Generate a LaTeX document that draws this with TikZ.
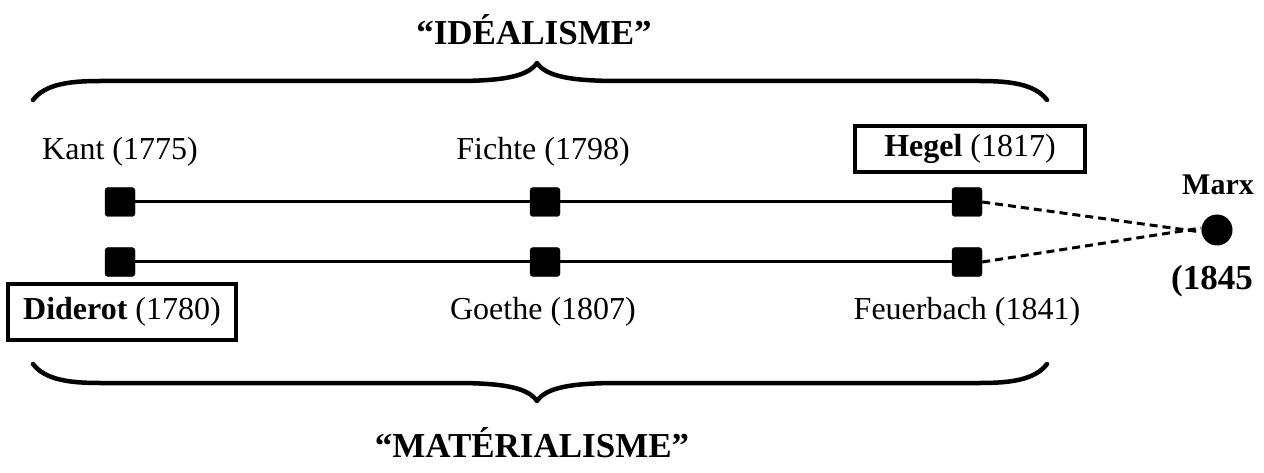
\documentclass[tikz,border=0pt]{standalone}
\usepackage{fontspec}
\setmainfont{Liberation Serif}
\begin{document}
\begin{tikzpicture}[x=1pt,y=-1pt,
  lbl/.style={font=\fontsize{32}{38}\selectfont, inner sep=0pt, anchor=center},
  ttl/.style={lbl, font=\fontsize{35}{42}\selectfont\bfseries},
  boxed/.style={lbl, draw, line width=3.5pt, minimum height=46pt},
  sq/.style={fill=black, draw=black, rounded corners=3pt, minimum width=30pt, minimum height=29pt, inner sep=0pt},
  tl/.style={line width=3pt},
  dl/.style={line width=3pt, dash pattern=on 8pt off 5pt},
  brace/.style={line width=4.5pt, line cap=round, line join=round}]
\useasboundingbox (0,0) rectangle (1264,473);
% titles
\node[ttl] (ideal) at (534,30) {“IDÉALISME”};
\node[ttl] (mater) at (532,443) {“MATÉRIALISME”};
% braces
\draw[brace] (33,100) .. controls (45,84) and (70,81) .. (100,81) -- (455,81)
  .. controls (505,81) and (528,76) .. (537,63)
  .. controls (546,76) and (569,81) .. (619,81) -- (980,81)
  .. controls (1010,81) and (1035,84) .. (1047,100);
\draw[brace] (33,364) .. controls (45,380) and (70,383) .. (100,383) -- (455,383)
  .. controls (505,383) and (528,388) .. (537,401)
  .. controls (546,388) and (569,383) .. (619,383) -- (980,383)
  .. controls (1010,383) and (1035,380) .. (1047,364);
% labels
\node[lbl] (kant) at (120,152) {Kant (1775)};
\node[lbl] (fichte) at (543,152) {Fichte (1798)};
\node[boxed, minimum width=230pt] (hegel) at (970,149) {\textbf{Hegel} (1817)};
\node[boxed, minimum width=228pt, minimum height=56pt] (diderot) at (122,312) {\textbf{Diderot} (1780)};
\node[lbl] (goethe) at (543,312) {Goethe (1807)};
\node[lbl] (feuer) at (967,312) {Feuerbach (1841)};
% squares
\node[sq] (k) at (120,202) {};
\node[sq] (f) at (545,202) {};
\node[sq] (h) at (967,202) {};
\node[sq] (d) at (120,262) {};
\node[sq] (g) at (545,262) {};
\node[sq] (fb) at (967,262) {};
\draw[tl] (k) -- (f) -- (h);
\draw[tl] (d) -- (g) -- (fb);
% Marx
\node[circle, fill=black, minimum size=31pt, inner sep=0pt] (marx) at (1217,230) {};
\node[lbl, font=\fontsize{30}{36}\selectfont\bfseries] (marxl) at (1218,185) {Marx};
\node[lbl, font=\fontsize{35}{42}\selectfont\bfseries] (marxd) at (1212,281) {(1845};
\draw[dl] (h.east) -- ([yshift=-2pt]marx.west);
\draw[dl] (fb.east) -- ([yshift=2pt]marx.west);
\end{tikzpicture}
\end{document}
